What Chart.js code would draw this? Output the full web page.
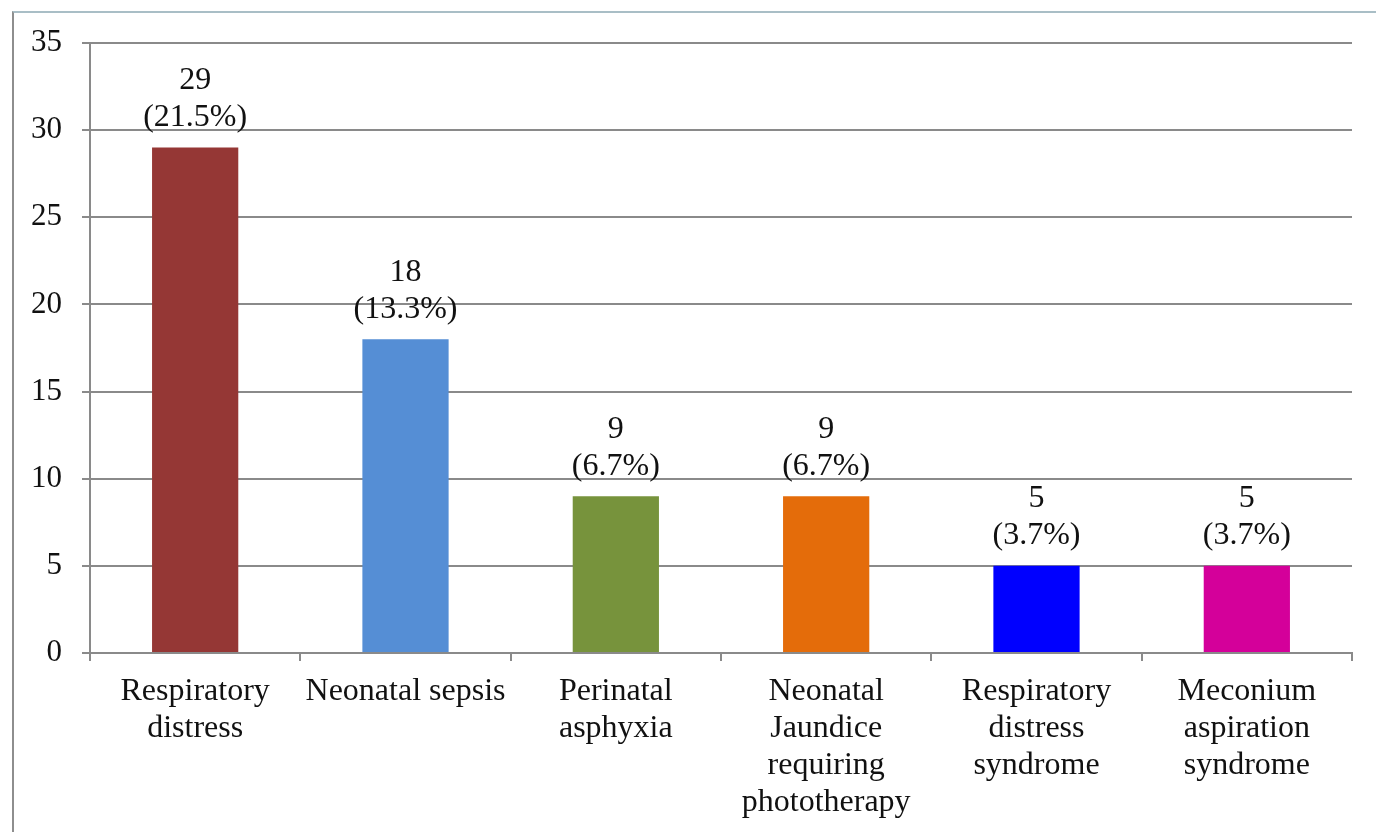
<!DOCTYPE html>
<html>
<head>
<meta charset="utf-8">
<script src="https://cdn.jsdelivr.net/npm/chart.js@4.4.1/dist/chart.umd.min.js"></script>
<style>
  html, body { margin: 0; padding: 0; background: #ffffff; }
  body { width: 1376px; height: 832px; position: relative; overflow: hidden; }
  #frame {
    position: absolute; left: 12px; top: 11px; width: 1400px; height: 840px;
    border-top: 2px solid #a9bec6; border-left: 2px solid #8e8e8e;
  }
  #chart { position: absolute; left: 0; top: 0; }
</style>
</head>
<body>
<div id="frame"></div>
<canvas id="chart" width="1376" height="832"></canvas>
<script>
// Neonatal morbidity: number of cases and share of all admissions
const categories = [
  ['Respiratory', 'distress'],
  ['Neonatal sepsis'],
  ['Perinatal', 'asphyxia'],
  ['Neonatal', 'Jaundice', 'requiring', 'phototherapy'],
  ['Respiratory', 'distress', 'syndrome'],
  ['Meconium', 'aspiration', 'syndrome']
];
const counts = [29, 18, 9, 9, 5, 5];
const percents = ['21.5', '13.3', '6.7', '6.7', '3.7', '3.7'];
const barColors = ['#953735', '#558ed5', '#77933c', '#e46c0a', '#0000ff', '#d4009a'];
const yTicks = [0, 5, 10, 15, 20, 25, 30, 35];

const FONT = 'Liberation Serif, Times New Roman, serif';
const AXIS = '#8a8a8a';

// Two-line value label ("n" over "(p%)") above each bar
const valueLabels = {
  id: 'valueLabels',
  afterDatasetsDraw(chart) {
    const ctx = chart.ctx;
    const meta = chart.getDatasetMeta(0);
    ctx.save();
    ctx.font = '32px ' + FONT;
    ctx.fillStyle = '#111111';
    ctx.textAlign = 'center';
    ctx.textBaseline = 'middle';
    meta.data.forEach((bar, i) => {
      ctx.fillText(String(counts[i]), bar.x, bar.y - 67);
      ctx.fillText('(' + percents[i] + '%)', bar.x, bar.y - 30);
    });
    ctx.restore();
  }
};

new Chart(document.getElementById('chart'), {
  type: 'bar',
  data: {
    labels: categories,
    datasets: [{
      data: counts,
      backgroundColor: barColors,
      borderWidth: 0,
      categoryPercentage: 1.0,
      barPercentage: 0.41
    }]
  },
  options: {
    responsive: false,
    animation: false,
    events: [],
    layout: { padding: { top: 43, right: 24, bottom: 0, left: 0 } },
    plugins: {
      legend: { display: false },
      tooltip: { enabled: false }
    },
    scales: {
      x: {
        grid: {
          display: true,
          drawOnChartArea: false,
          drawTicks: true,
          tickLength: 8,
          color: AXIS,
          lineWidth: 2,
          offset: true
        },
        border: { display: true, color: AXIS, width: 2 },
        ticks: {
          color: '#111111',
          font: { family: FONT, size: 32, lineHeight: 1.16 },
          maxRotation: 0,
          minRotation: 0,
          autoSkip: false,
          padding: 12
        },
        afterFit(scale) { scale.height = 179; }
      },
      y: {
        min: 0,
        max: 35,
        afterBuildTicks(scale) { scale.ticks = yTicks.map(v => ({ value: v })); },
        grid: {
          color: AXIS,
          lineWidth: 2,
          drawTicks: true,
          tickLength: 8
        },
        border: { display: true, color: AXIS, width: 2 },
        ticks: {
          color: '#111111',
          font: { family: FONT, size: 31 },
          padding: 20
        },
        afterFit(scale) { scale.width = 90; }
      }
    }
  },
  plugins: [valueLabels]
});
</script>
</body>
</html>
